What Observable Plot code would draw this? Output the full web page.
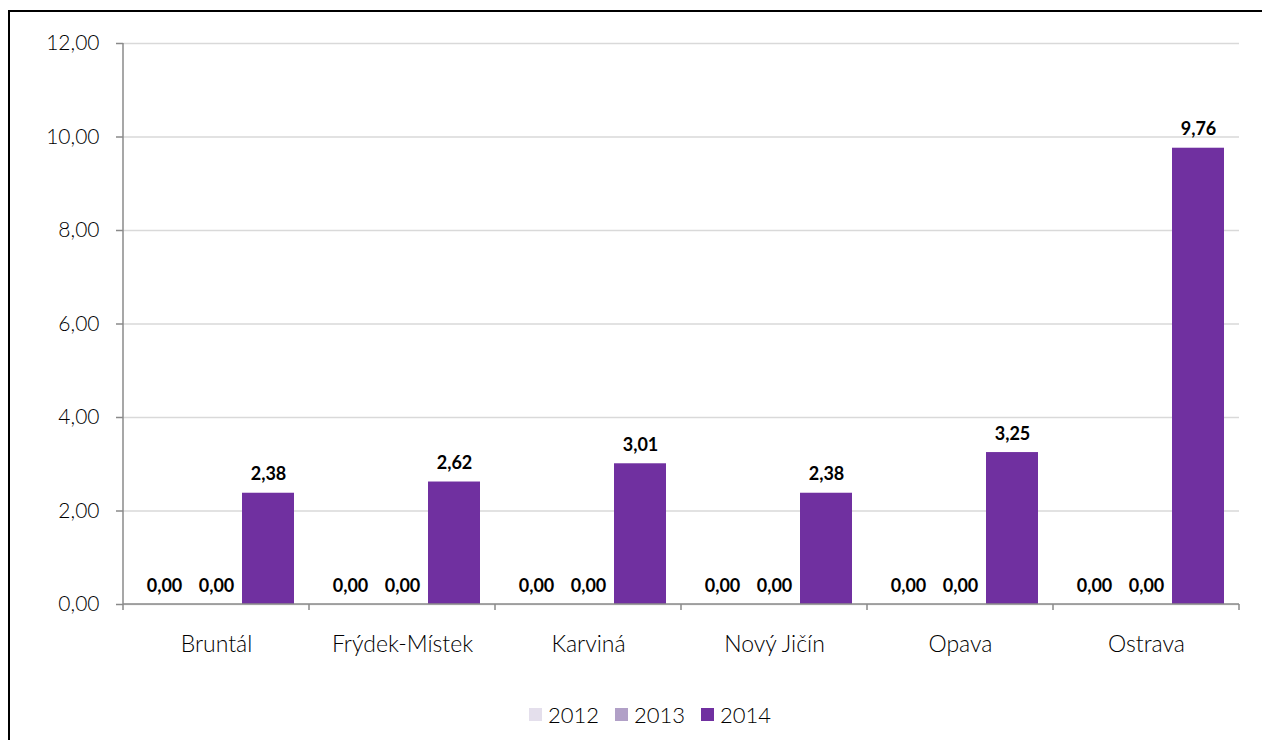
<!DOCTYPE html>
<html>
<head>
<meta charset="utf-8">
<script src="https://cdn.jsdelivr.net/npm/d3@7"></script>
<script src="https://cdn.jsdelivr.net/npm/@observablehq/plot@0.6"></script>
<style>
  html, body { margin: 0; padding: 0; background: #fff; width: 1262px; height: 740px; overflow: hidden; }
  #frame { position: absolute; left: 8px; top: 10px; right: -10px; bottom: -10px; border-top: 2px solid #000; border-left: 2px solid #000; }
  #chart { position: absolute; left: 0; top: 0; }
  #legend { position: absolute; left: 0; width: 1300px; top: 701px; display: flex; justify-content: center; gap: 16px; font-family: Lato, sans-serif; font-weight: 300; font-size: 22px; color: #000; }
  #legend .item { display: flex; align-items: center; gap: 6px; }
  #legend .sw { width: 13px; height: 13px; display: inline-block; }
</style>
</head>
<body>
<div id="frame"></div>
<div id="chart"></div>
<div id="legend"></div>
<script>
const categories = ["Bruntál", "Frýdek-Místek", "Karviná", "Nový Jičín", "Opava", "Ostrava"];
const years = ["2012", "2013", "2014"];
const values2012 = [0, 0, 0, 0, 0, 0];
const values2013 = [0, 0, 0, 0, 0, 0];
const values2014 = [2.38, 2.62, 3.01, 2.38, 3.25, 9.76];
const yTicks = [0, 2, 4, 6, 8, 10, 12];
const colors = ["#E4DFEC", "#B1A0C7", "#7030A0"];

const series = [values2012, values2013, values2014];
const data = [];
categories.forEach((cat, i) => {
  years.forEach((yr, j) => data.push({cat, year: yr, value: series[j][i]}));
});

const fmt = v => d3.format(".2f")(v).replace(".", ",");

// Axis lines + category boundary ticks, drawn per facet
const edgeMark = Plot.ruleY(categories, {fx: d => d, y: () => 0});
edgeMark.render = function(index, scales, channels, dimensions) {
  const i = index && index.length ? index[0] : 0;
  const x = scales.x, y = scales.y;
  let x0, x1;
  if (x && typeof x.range === "function") {
    [x0, x1] = x.range();
  } else {
    x0 = dimensions.marginLeft;
    x1 = dimensions.width - dimensions.marginRight;
  }
  const yb = y(0);
  const g = d3.create("svg:g").attr("stroke", "#8a8a8a").attr("stroke-width", 1.5).attr("fill", "none");
  g.append("line").attr("x1", x0).attr("x2", x1).attr("y1", yb).attr("y2", yb);
  g.append("line").attr("x1", x0).attr("x2", x0).attr("y1", yb).attr("y2", yb + 6);
  if (i === categories.length - 1) {
    g.append("line").attr("x1", x1).attr("x2", x1).attr("y1", yb).attr("y2", yb + 6);
  }
  if (i === 0) {
    g.append("line").attr("x1", x0).attr("x2", x0).attr("y1", yb).attr("y2", y(yTicks[yTicks.length - 1]));
  }
  return g.node();
};

const chart = Plot.plot({
  width: 1262,
  height: 680,
  marginLeft: 122,
  marginRight: 22,
  marginTop: 43,
  marginBottom: 76,
  style: {fontFamily: "Lato, sans-serif", color: "#000", background: "transparent"},
  fx: {domain: categories, padding: 0, label: null},
  x: {domain: years, paddingInner: 0, paddingOuter: 0.271, axis: null},
  y: {domain: [0, 12], label: null},
  color: {domain: years, range: colors},
  marks: [
    Plot.gridY(yTicks, {stroke: "#d9d9d9", strokeOpacity: 1, strokeWidth: 1.5}),
    Plot.axisY({ticks: yTicks, tickFormat: fmt, tickSize: 7, tickPadding: 17, stroke: "#8a8a8a", strokeWidth: 1.5, fontSize: 21, fontWeight: 300, fill: "#000", label: null}),
    Plot.axisFx({anchor: "bottom", tickSize: 0, tickPadding: 31, fontSize: 23, fontWeight: 300, fill: "#000", label: null}),
    Plot.barY(data, {fx: "cat", x: "year", y: "value", fill: "year"}),
    Plot.text(data, {fx: "cat", x: "year", y: "value", text: d => fmt(d.value), lineAnchor: "bottom", dy: -13, fontWeight: "bold", fontSize: 18, fill: "#000"}),
    edgeMark
  ]
});
document.getElementById("chart").appendChild(chart);

const legend = document.getElementById("legend");
years.forEach((yr, j) => {
  const item = document.createElement("div");
  item.className = "item";
  const sw = document.createElement("span");
  sw.className = "sw";
  sw.style.background = colors[j];
  const t = document.createElement("span");
  t.textContent = yr;
  item.appendChild(sw);
  item.appendChild(t);
  legend.appendChild(item);
});
</script>
</body>
</html>
